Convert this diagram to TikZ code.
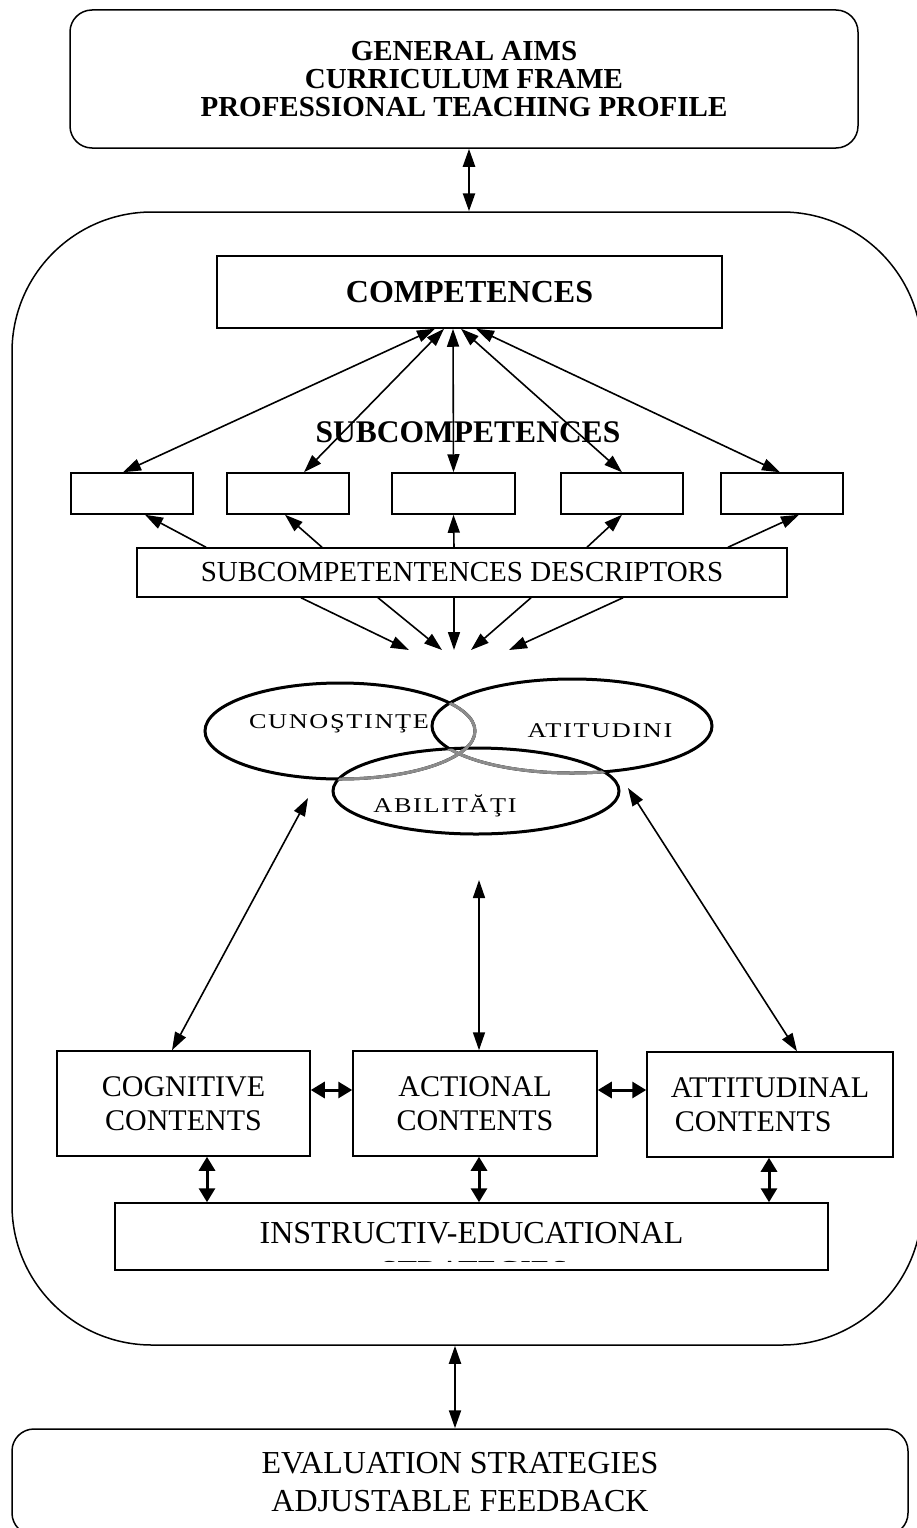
\documentclass[tikz,border=0pt]{standalone}
\usepackage{fontspec}
\setmainfont{Liberation Serif}
\newfontfamily\vennfont[FakeStretch=1.25, LetterSpace=8]{Liberation Serif}
\usetikzlibrary{arrows.meta}
\newcommand\fsz[2]{\fontsize{#1pt}{#2pt}\selectfont}
\tikzset{
  box/.style={draw, line width=1.5pt, inner sep=0pt},
  rbox/.style={box, rounded corners=22pt},
  arr/.style={line width=1.6pt, -{Triangle[length=18pt,width=12pt]}},
  dbl/.style={line width=1.6pt, {Triangle[length=18pt,width=12pt]}-{Triangle[length=18pt,width=12pt]}},
  fat/.style={line width=3pt, {Triangle[length=14pt,width=16pt]}-{Triangle[length=14pt,width=16pt]}},
  venn/.style={line width=3pt},
  vlabel/.style={font=\vennfont\fsz{21}{24}, anchor=base, inner sep=0pt}
}

\begin{document}
\begin{tikzpicture}[x=1pt, y=-1pt]
     \useasboundingbox (0,0) rectangle (916,1528);

     \node [rbox, minimum width=788pt, minimum height=138pt, align=center, font=\fsz{29}{28}\bfseries] (aims) at (464,79) {GENERAL AIMS\\CURRICULUM FRAME\\PROFESSIONAL TEACHING PROFILE};
     \node [box, rounded corners=140pt, minimum width=910pt, minimum height=1133pt] (frame) at (467,778.5) {};
     \node [rbox, minimum width=896pt, minimum height=106pt, align=center, font=\fsz{32}{38}] (eval) at (460,1482) {EVALUATION STRATEGIES\\ADJUSTABLE FEEDBACK};

     \draw [dbl, line width=2.5pt] ([xshift=5pt]aims.south) -- ([xshift=2pt]frame.north);
     \draw [dbl, line width=2pt] ([xshift=-12pt]frame.south) -- ([xshift=-5pt]eval.north);

     \node [box, minimum width=505pt, minimum height=72pt, font=\fsz{32}{38}\bfseries] (comp) at (469.5,292) {COMPETENCES};
     \node [font=\fsz{31.5}{38}\bfseries, anchor=base, inner sep=0pt] (subtitle) at (468,442) {SUBCOMPETENCES};

     \node [box, minimum width=122pt, minimum height=41pt] (sub1) at (132,493.5) {};
     \node [box, minimum width=122pt, minimum height=41pt] (sub2) at (288,493.5) {};
     \node [box, minimum width=123pt, minimum height=41pt] (sub3) at (453.5,493.5) {};
     \node [box, minimum width=122pt, minimum height=41pt] (sub4) at (622,493.5) {};
     \node [box, minimum width=122pt, minimum height=41pt] (sub5) at (782,493.5) {};

     \draw [dbl] ([xshift=-34.5pt]comp.south) -- ([xshift=-9pt]sub1.north);
     \draw [dbl] ([xshift=-25.5pt]comp.south) -- ([xshift=16pt]sub2.north);
     \draw [dbl] ([xshift=-16.5pt]comp.south) -- (sub3.north);
     \draw [dbl] ([xshift=-8.5pt]comp.south) -- (sub4.north);
     \draw [dbl] ([xshift=6.5pt]comp.south) -- ([xshift=-2pt]sub5.north);

     \node [box, minimum width=650pt, minimum height=49pt, font=\fsz{29}{34}] (desc) at (462,572.5) {SUBCOMPETENTENCES DESCRIPTORS};

     \draw [arr] ([xshift=-256pt]desc.north) -- ([xshift=13pt]sub1.south);
     \draw [arr] ([xshift=-140pt]desc.north) -- ([xshift=-3pt]sub2.south);
     \draw [arr] ([xshift=-8pt]desc.north) -- (sub3.south);
     \draw [arr] ([xshift=125pt]desc.north) -- (sub4.south);
     \draw [arr] ([xshift=266pt]desc.north) -- ([xshift=17pt]sub5.south);

     \coordinate (k1) at (409,650);
     \coordinate (k2) at (442,650);
     \coordinate (k3) at (454,650);
     \coordinate (k4) at (471,650);
     \coordinate (k5) at (509,650);
     \draw [arr] ([xshift=-161pt]desc.south) -- (k1);
     \draw [arr] ([xshift=-84pt]desc.south) -- (k2);
     \draw [arr] ([xshift=-8pt]desc.south) -- (k3);
     \draw [arr] ([xshift=69pt]desc.south) -- (k4);
     \draw [arr] ([xshift=161pt]desc.south) -- (k5);

     \coordinate (cuno) at (340,731);
     \coordinate (atit) at (572,726);
     \coordinate (abil) at (476,791);
     \draw [venn] (cuno) ellipse [x radius=135pt, y radius=48pt];
     \draw [venn] (atit) ellipse [x radius=140pt, y radius=47pt];
     \draw [venn] (abil) ellipse [x radius=143pt, y radius=43pt];
     \begin{scope}
       \clip (atit) ellipse [x radius=140pt, y radius=47pt];
       \draw [venn, black!45] (cuno) ellipse [x radius=135pt, y radius=48pt];
     \end{scope}
     \begin{scope}
       \clip (abil) ellipse [x radius=143pt, y radius=43pt];
       \draw [venn, black!45] (cuno) ellipse [x radius=135pt, y radius=48pt];
       \draw [venn, black!45] (atit) ellipse [x radius=140pt, y radius=47pt];
     \end{scope}
     \node [vlabel] (cunotxt) at (339,728) {CUNOŞTINŢE};
     \node [vlabel] (atittxt) at (600,737) {ATITUDINI};
     \node [vlabel] (abiltxt) at (445,812) {ABILITĂŢI};

     \node [box, minimum width=253pt, minimum height=105pt, align=center, font=\fsz{30}{34}] (cogn) at (183.5,1103.5) {COGNITIVE\\CONTENTS};
     \node [box, minimum width=244pt, minimum height=105pt, align=center, font=\fsz{30}{34}] (actn) at (475,1103.5) {ACTIONAL\\CONTENTS};
     \node [box, minimum width=246pt, minimum height=105pt, align=left, font=\fsz{30}{34}] (attd) at (770,1104.5) {ATTITUDINAL\\\hspace*{4pt}CONTENTS};

     \coordinate (kl) at (308,798);
     \coordinate (km) at (479,880);
     \coordinate (kr) at (628,788);
     \draw [dbl] (kl) -- ([xshift=-11.5pt]cogn.north);
     \draw [dbl] (km) -- ([xshift=4pt]actn.north);
     \draw [dbl] (kr) -- ([xshift=27pt]attd.north);

     \draw [fat] ([yshift=13.5pt]cogn.east) -- ([yshift=13.5pt]actn.west);
     \draw [fat] ([yshift=13.5pt]actn.east) -- ([yshift=14.5pt]attd.west);

     \node [box, minimum width=713pt, minimum height=67pt] (instr) at (471.5,1236.5) {};
     \node [font=\fsz{32}{38}, anchor=base, inner sep=0pt] (instrtxt) at (471.5,1243) {INSTRUCTIV-EDUCATIONAL};
     \begin{scope}
       \clip (115,1203) rectangle (828,1261);
       \node [font=\fsz{32}{38}, anchor=base, inner sep=0pt] (strattxt) at (474,1282) {STRATEGIES};
     \end{scope}

     \draw [fat] ([xshift=23.5pt]cogn.south) -- ([xshift=-264.5pt]instr.north);
     \draw [fat] ([xshift=4pt]actn.south) -- ([xshift=7.5pt]instr.north);
     \draw [fat] ([xshift=-1pt]attd.south) -- ([xshift=297.5pt]instr.north);
    \end{tikzpicture}
\end{document}
